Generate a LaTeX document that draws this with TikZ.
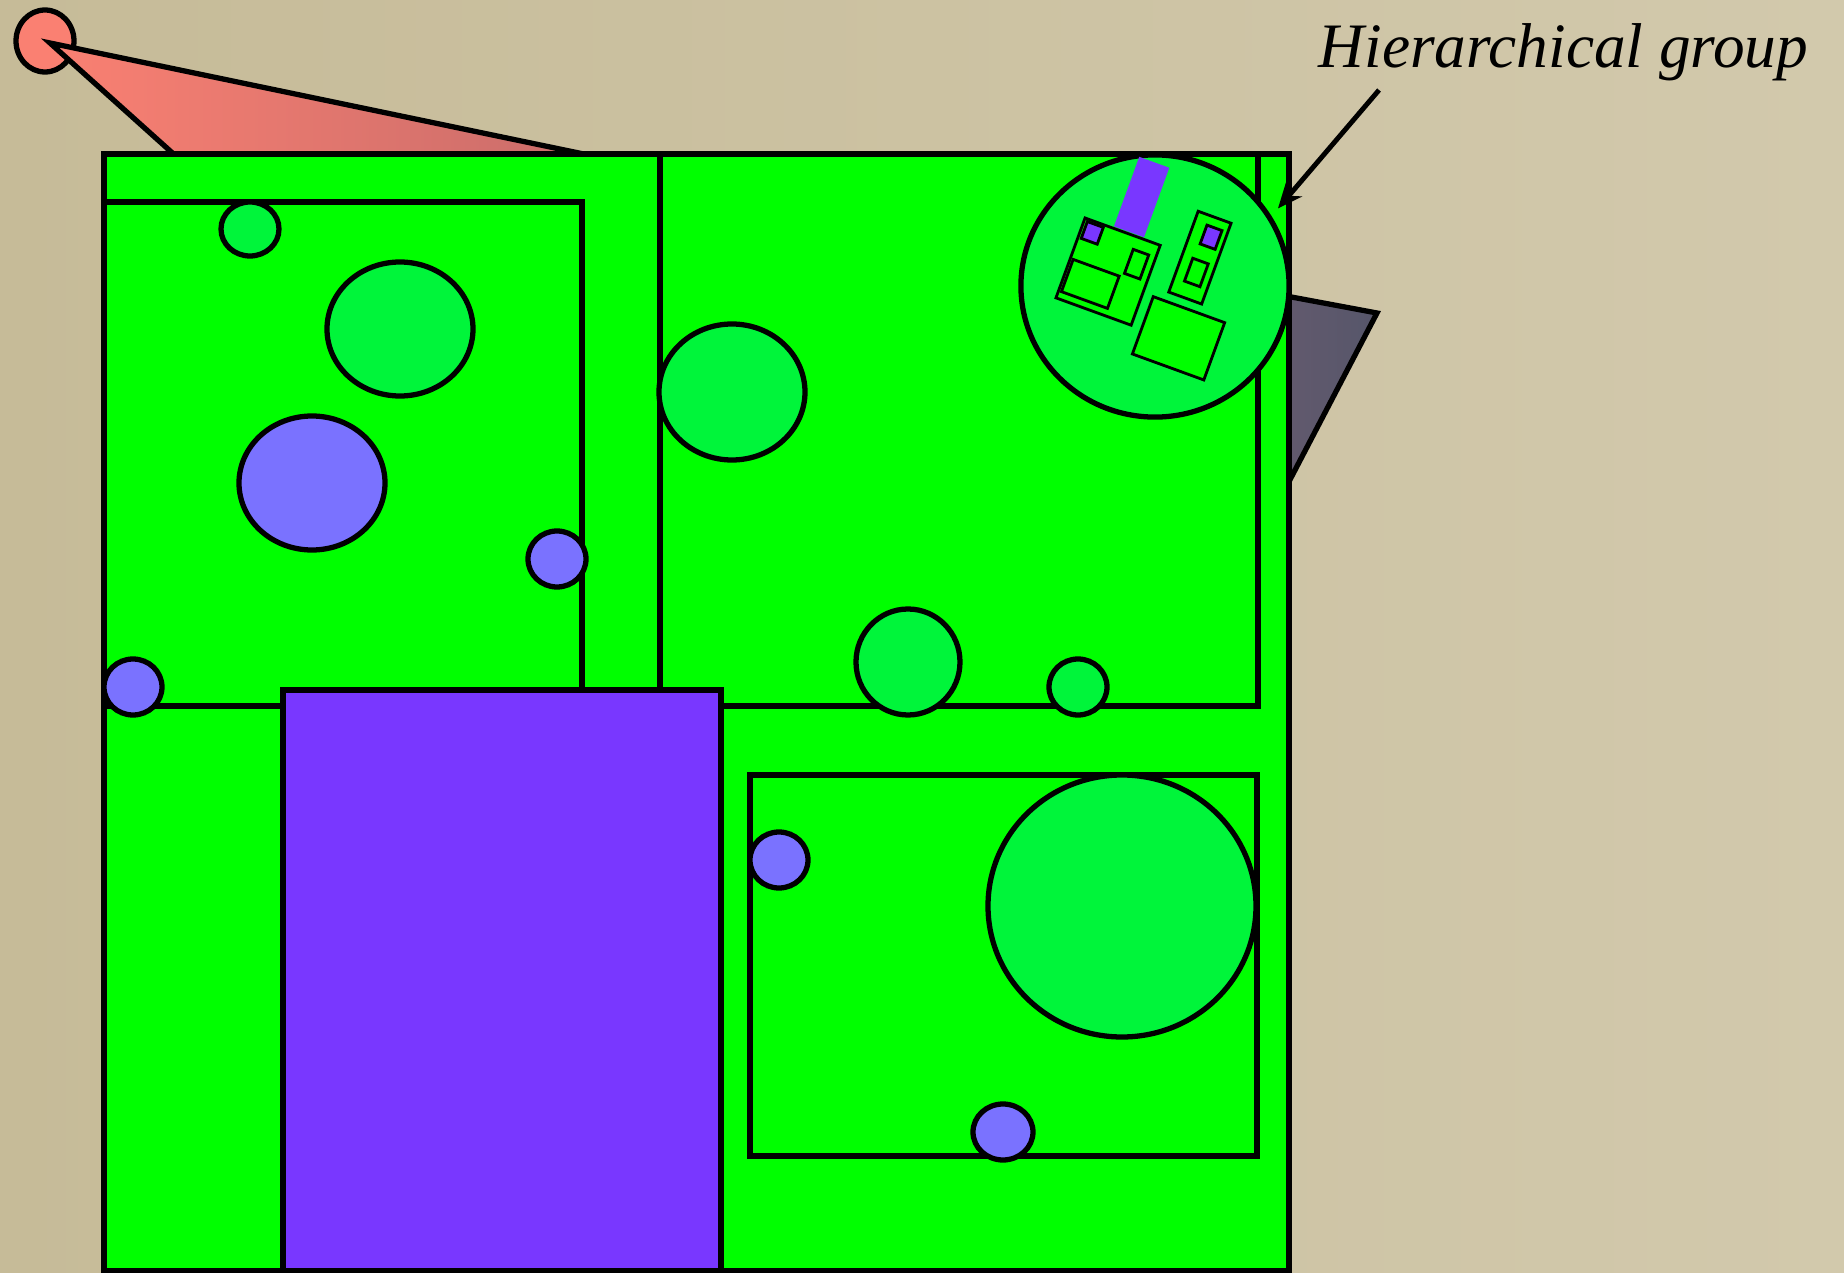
\documentclass[tikz,border=0pt]{standalone}
\usepackage{fontspec}
\setmainfont{Liberation Serif}
\usepackage{tikz}
\usetikzlibrary{arrows.meta, shapes.geometric, calc}
\definecolor{bgtan}{RGB}{210,201,172}
\definecolor{bgtandark}{RGB}{198,187,152}
\definecolor{floorgreen}{RGB}{0,255,0}
\definecolor{blobgreen}{RGB}{0,245,58}
\definecolor{blobblue}{RGB}{122,114,255}
\definecolor{slabpurple}{RGB}{121,55,255}
\definecolor{lampsalmon}{RGB}{250,128,114}
\definecolor{lampdark}{RGB}{200,108,106}
\definecolor{slate}{RGB}{100,90,110}
\definecolor{slatedark}{RGB}{86,86,106}

\begin{document}
\begin{tikzpicture}[x=0.01cm, y=-0.01cm,
    wall/.style={draw=black, line width=1.5pt},
    thinwall/.style={draw=black, line width=0.8pt}]
    % background
    \shade[left color=bgtandark, right color=bgtan] (0,0) rectangle (1844,1273);
    \useasboundingbox (0,0) rectangle (1844,1273);

    % light and cone
    \draw[wall, fill=lampsalmon] (45,41) ellipse [x radius=29, y radius=31];
    \draw[wall, left color=lampsalmon, right color=lampdark] (50,43) -- (603,158) -- (178,158) -- cycle;
    % wedge on the right
    \draw[wall, left color=slate, right color=slatedark] (1270,293) -- (1377,313) -- (1270,518) -- cycle;

    % floor and rooms
    \draw[wall, fill=floorgreen] (104,154) rectangle (1289,1271);
    \draw[wall] (104,202) rectangle (582,706);
    \draw[wall] (660,154) rectangle (1258,706);
    \draw[wall] (750,775) rectangle (1257,1156);
    \draw[wall, fill=slabpurple] (283,690) rectangle (721,1271);

    % green blobs
    \draw[wall, fill=blobgreen] (250,229) ellipse [x radius=29, y radius=27];
    \draw[wall, fill=blobgreen] (400,329) ellipse [x radius=73, y radius=67];
    \draw[wall, fill=blobgreen] (732,392) ellipse [x radius=73, y radius=68];
    \draw[wall, fill=blobgreen] (908,662) ellipse [x radius=52, y radius=53];
    \draw[wall, fill=blobgreen] (1078,687) ellipse [x radius=29, y radius=28];
    \draw[wall, fill=blobgreen] (1122,906) ellipse [x radius=134, y radius=131];
    % blue blobs
    \draw[wall, fill=blobblue] (312,483) ellipse [x radius=73, y radius=67];
    \draw[wall, fill=blobblue] (557,559) ellipse [x radius=29, y radius=28];
    \draw[wall, fill=blobblue] (133,687) ellipse [x radius=29, y radius=28];
    \draw[wall, fill=blobblue] (779,860) ellipse [x radius=29, y radius=28];
    \draw[wall, fill=blobblue] (1003,1132) ellipse [x radius=30, y radius=28];

    % hierarchical group
    \node[ellipse, wall, fill=blobgreen, minimum width=2.68cm, minimum height=2.62cm, inner sep=0pt] (hg) at (1155,286) {};
    \begin{scope}[shift={(hg.center)}, rotate=-20]
        \fill[slabpurple] (-59,-116) rectangle (-27,-42);
        \draw[thinwall, fill=floorgreen] (-89,-40) rectangle (-9,45);
        \draw[thinwall, fill=slabpurple] (-85.6,-37.4) rectangle (-68.6,-19.5);
        \draw[thinwall] (-33,-27) rectangle (-16.5,-1.4);
        \draw[thinwall] (-86,3) rectangle (-37,37.3);
        \draw[thinwall, fill=floorgreen] (15,-85) rectangle (50,1);
        \draw[thinwall, fill=slabpurple] (28,-75) rectangle (44,-55);
        \draw[thinwall] (26,-39) rectangle (42.5,-14.7);
        \draw[thinwall, fill=floorgreen] (2,10.6) rectangle (78,71.6);
    \end{scope}

    \node[anchor=base west, inner sep=0pt, font=\fontsize{18}{22}\selectfont\itshape] (lbl) at (1318,68) {Hierarchical group};
    \draw[line width=1.4pt, -{Stealth[length=7pt, width=6pt]}, shorten >=0.1cm] ([xshift=0.61cm, yshift=-0.22cm]lbl.base west) -- (hg.31);
\end{tikzpicture}
\end{document}
